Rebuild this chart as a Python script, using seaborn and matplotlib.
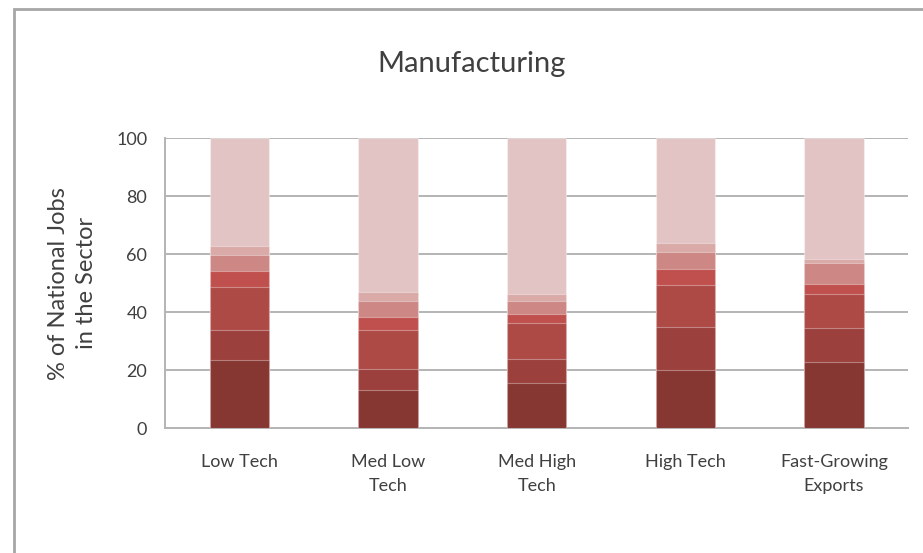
import numpy as np
import pandas as pd
import matplotlib.pyplot as plt
import seaborn as sns
from matplotlib.patches import Rectangle

# Data (share of national jobs in the sector, %, bottom -> top segments)
categories = ['Low Tech', 'Med Low\nTech', 'Med High\nTech', 'High Tech', 'Fast-Growing\nExports']
seg1 = [23.4, 13.1, 15.4, 20.0, 22.7]
seg2 = [10.3, 7.1, 8.3, 14.7, 11.7]
seg3 = [15.0, 13.6, 12.4, 14.5, 11.9]
seg4 = [5.4, 4.6, 3.3, 5.7, 3.5]
seg5 = [5.6, 5.5, 4.4, 5.9, 7.0]
seg6 = [3.2, 2.9, 2.4, 3.1, 1.7]
seg7 = [37.1, 53.2, 53.8, 36.1, 41.5]

colors = ['#863732', '#9c403d', '#ad4a46', '#c0504d', '#cd8784', '#d9aaa8', '#e3c4c5']

sns.set_style('white')
plt.rcParams['font.family'] = ['Lato', 'DejaVu Sans']
text_color = '#404040'

segments = [seg1, seg2, seg3, seg4, seg5, seg6, seg7]
cum = np.cumsum(np.array(segments), axis=0)

fig = plt.figure(figsize=(9.23, 5.53), dpi=100)
ax = fig.add_axes([0.179, 0.226, 0.805, 0.524])

# draw cumulative layers from the top down so that each one covers the previous
for i in range(len(segments) - 1, -1, -1):
    df = pd.DataFrame({'cat': categories, 'val': cum[i]})
    sns.barplot(data=df, x='cat', y='val', color=colors[i], saturation=1,
                width=0.4, edgecolor=(1, 1, 1, 0.35), linewidth=0.8, ax=ax, zorder=3)

ax.set_xlim(-0.5, 4.5)
ax.set_ylim(0, 100)
ax.set_yticks([0, 20, 40, 60, 80, 100])
ax.yaxis.grid(True, color='#b4b4b4', linewidth=1.4, zorder=0)
ax.set_axisbelow(True)

for s in ['top', 'right']:
    ax.spines[s].set_visible(False)
for s in ['left', 'bottom']:
    ax.spines[s].set_color('#b4b4b4')
    ax.spines[s].set_linewidth(1.4)

ax.set_xticks(np.arange(-0.5, 5, 1), minor=False)
ax.set_xticklabels([])
ax.set_xticks(np.arange(5), minor=True)
ax.set_xticklabels(categories, minor=True, fontsize=13, color=text_color, linespacing=1.6)
ax.tick_params(axis='x', which='major', length=7, width=1.4, color='#b4b4b4', direction='out')
ax.tick_params(axis='x', which='minor', length=0, pad=19)
ax.tick_params(axis='y', length=7, width=1.4, color='#b4b4b4', labelsize=13,
               labelcolor=text_color, pad=6)

ax.set_xlabel('')
ax.set_ylabel('% of National Jobs\nin the Sector', fontsize=17, color=text_color,
              labelpad=14, linespacing=1.4)
fig.text(0.511, 0.885, 'Manufacturing', ha='center', va='center', fontsize=21, color=text_color)

# outer chart border
fig.patches.append(Rectangle((14 / 923, -0.1), 1.2, 1.0 - 9 / 553 + 0.1, transform=fig.transFigure,
                             fill=False, edgecolor='#a6a6a6', linewidth=2))

plt.savefig('out.png', dpi=100)
plt.close()
